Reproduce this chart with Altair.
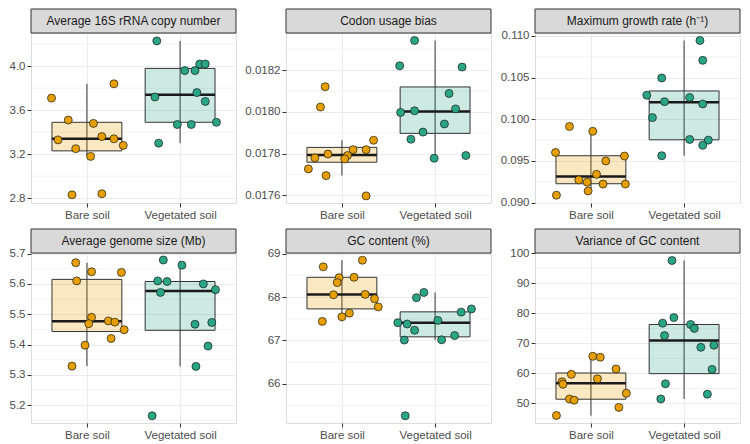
import altair as alt
import pandas as pd

# ---------------- data ----------------
groups = ["Bare soil", "Vegetated soil"]
group_pos = [1, 2]
titles = ["Average 16S rRNA copy number", "Codon usage bias", "Maximum growth rate (h\u207b\u00b9)",
          "Average genome size (Mb)", "GC content (%)", "Variance of GC content"]
colors = ["#E69F00", "#1F8C70"]
box_colors = ["#E69F00", "#2AA585"]

# box stats: [lower whisker, Q1, median, Q3, upper whisker]
# 1. Average 16S rRNA copy number
rrna_bare = [3.71, 3.84, 3.51, 3.48, 3.33, 3.36, 3.34, 3.28, 3.25, 3.18, 2.83, 2.84]
rrna_bare_jit = [-0.38, 0.29, -0.20, 0.07, -0.31, 0.16, 0.29, 0.39, -0.12, 0.04, -0.16, 0.16]
rrna_veg = [4.23, 4.02, 4.02, 3.96, 3.96, 3.72, 3.76, 3.68, 3.47, 3.47, 3.49, 3.30]
rrna_veg_jit = [-0.25, 0.21, 0.27, 0.05, 0.16, -0.27, 0.18, 0.27, -0.03, 0.12, 0.39, -0.23]
rrna_box_bare = [3.19, 3.23, 3.34, 3.49, 3.84]
rrna_box_veg = [3.30, 3.49, 3.74, 3.98, 4.23]
rrna_ticks = [2.8, 3.2, 3.6, 4.0]
rrna_minor = [3.0, 3.4, 3.8, 4.2]
rrna_domain = [2.756, 4.302]

# 2. Codon usage bias
codon_bare = [0.018120, 0.018023, 0.017864, 0.017819, 0.017819, 0.017798,
              0.017780, 0.017791, 0.017775, 0.017727, 0.017695, 0.017598]
codon_bare_jit = [-0.18, -0.23, 0.34, 0.12, 0.26, -0.15, -0.29, 0.06, 0.03, -0.36, -0.17, 0.26]
codon_veg = [0.018341, 0.018220, 0.018214, 0.018088, 0.018014, 0.017997,
             0.018005, 0.017942, 0.017903, 0.017869, 0.017778, 0.017791]
codon_veg_jit = [-0.22, -0.38, 0.29, 0.15, 0.22, -0.37, -0.22, 0.10, -0.13, -0.26, -0.01, 0.33]
codon_box_bare = [0.017695, 0.017759, 0.017794, 0.017830, 0.017864]
codon_box_veg = [0.017778, 0.017897, 0.018002, 0.018119, 0.018341]
codon_ticks = [0.0176, 0.0178, 0.0180, 0.0182]
codon_minor = [0.0177, 0.0179, 0.0181, 0.0183]
codon_domain = [0.017564, 0.018377]

# 3. Maximum growth rate
growth_bare = [0.09914, 0.09856, 0.09602, 0.09500, 0.09559, 0.09340,
               0.09273, 0.09246, 0.09223, 0.09223, 0.09141, 0.09090]
growth_bare_jit = [-0.23, 0.02, -0.38, 0.16, 0.36, 0.06, -0.13, -0.04, 0.13, 0.37, -0.03, -0.37]
growth_veg = [0.10945, 0.10707, 0.10496, 0.10289, 0.10211, 0.10262,
              0.10184, 0.10020, 0.09758, 0.09750, 0.09688, 0.09563]
growth_veg_jit = [0.17, 0.20, -0.24, -0.40, -0.21, 0.06, 0.20, -0.34, 0.06, 0.26, 0.20, -0.24]
growth_box_bare = [0.09130, 0.09227, 0.09313, 0.09563, 0.09895]
growth_box_veg = [0.09563, 0.09754, 0.10203, 0.10340, 0.10945]
growth_ticks = [0.090, 0.095, 0.100, 0.105, 0.110]
growth_minor = [0.0925, 0.0975, 0.1025, 0.1075]
growth_domain = [0.08996, 0.11035]

# 4. Average genome size
genome_bare = [5.670, 5.640, 5.638, 5.610, 5.490, 5.469, 5.478, 5.474, 5.449, 5.420, 5.398, 5.329]
genome_bare_jit = [-0.12, 0.05, 0.37, -0.11, 0.05, 0.02, 0.23, 0.30, 0.40, 0.26, -0.02, -0.16]
genome_veg = [5.679, 5.662, 5.610, 5.608, 5.572, 5.600, 5.581, 5.467, 5.473, 5.395, 5.328, 5.165]
genome_veg_jit = [-0.18, 0.02, -0.24, -0.14, -0.21, 0.25, 0.38, 0.16, 0.34, 0.30, 0.17, -0.30]
genome_box_bare = [5.329, 5.443, 5.477, 5.615, 5.670]
genome_box_veg = [5.328, 5.447, 5.577, 5.608, 5.676]
genome_ticks = [5.2, 5.3, 5.4, 5.5, 5.6, 5.7]
genome_minor = [5.15, 5.25, 5.35, 5.45, 5.55, 5.65]
genome_domain = [5.1414, 5.702]

# 5. GC content
gc_bare = [68.697, 68.848, 68.447, 68.455, 68.333, 68.053, 68.061, 67.962, 67.773, 67.629, 67.545, 67.439]
gc_bare_jit = [-0.20, 0.22, -0.03, 0.13, -0.05, -0.09, 0.25, 0.35, 0.39, 0.08, 0.0, -0.21]
gc_veg = [68.106, 67.985, 67.727, 67.652, 67.409, 67.379, 67.462, 67.235, 67.114, 67.008, 67.015, 65.265]
gc_veg_jit = [-0.12, -0.20, 0.39, 0.28, -0.40, -0.30, 0.03, -0.22, 0.21, -0.33, 0.07, -0.32]
gc_box_bare = [67.439, 67.727, 68.061, 68.455, 68.848]
gc_box_veg = [67.008, 67.083, 67.409, 67.659, 68.106]
gc_ticks = [66, 67, 68, 69]
gc_minor = [65.5, 66.5, 67.5, 68.5]
gc_domain = [65.098, 69.015]

# 6. Variance of GC content
var_bare = [65.7, 65.4, 61.5, 59.7, 58.2, 57.2, 56.4, 51.5, 51.1, 48.7, 53.4, 46.0]
var_bare_jit = [0.02, 0.10, 0.27, -0.21, 0.07, -0.31, -0.30, -0.23, -0.18, 0.30, 0.38, -0.37]
var_veg = [97.6, 78.6, 76.75, 76.3, 75.0, 72.6, 68.7, 69.4, 61.35, 56.55, 51.5, 53.1]
var_veg_jit = [-0.13, -0.11, -0.23, 0.07, 0.11, -0.21, 0.18, 0.32, 0.30, -0.20, -0.25, 0.25]
var_box_bare = [45.96, 51.42, 56.77, 60.15, 65.72]
var_box_veg = [51.5, 59.93, 70.96, 76.3, 97.6]
var_ticks = [50, 60, 70, 80, 90, 100]
var_minor = [45, 55, 65, 75, 85, 95]
var_domain = [43.5, 100.1]

# ---------------- layout / style ----------------
W = 205
H = 170
STRIP = 24
FONT = "Liberation Sans"
GRID = "#ebebeb"
DARK = "#333333"
BOX_HALF = 0.375


def panel(title, bare, bare_jit, veg, veg_jit, box_bare, box_veg, ticks, minor, domain, fmt):
    pts = pd.DataFrame({
        "group": [groups[0]] * len(bare) + [groups[1]] * len(veg),
        "pos": [group_pos[0] + j for j in bare_jit] + [group_pos[1] + j for j in veg_jit],
        "value": bare + veg,
    })
    boxes = pd.DataFrame({
        "group": groups,
        "center": group_pos,
        "left": [p - BOX_HALF for p in group_pos],
        "right": [p + BOX_HALF for p in group_pos],
        "lo": [box_bare[0], box_veg[0]],
        "q1": [box_bare[1], box_veg[1]],
        "med": [box_bare[2], box_veg[2]],
        "q3": [box_bare[3], box_veg[3]],
        "hi": [box_bare[4], box_veg[4]],
    })
    xscale = alt.Scale(domain=[0.4, 2.6], nice=False, zero=False)
    yscale = alt.Scale(domain=domain, nice=False, zero=False)
    label_expr = f"datum.value == {group_pos[0]} ? '{groups[0]}' : '{groups[1]}'"
    xaxis = alt.Axis(values=group_pos, labelExpr=label_expr, title=None, grid=True,
                     gridColor=GRID, gridWidth=1, domain=False, tickColor=DARK, tickSize=4,
                     labelColor="#4d4d4d", labelFontSize=11.5, labelPadding=2, labelFont=FONT,
                     labelOverlap=False, labelFlush=False)
    yaxis = alt.Axis(values=ticks, format=fmt, title=None, grid=True, gridColor=GRID,
                     gridWidth=1, domain=False, tickColor=DARK, tickSize=4,
                     labelColor="#4d4d4d", labelFontSize=11.5, labelPadding=2, labelFont=FONT,
                     labelOverlap=False, labelFlush=False)
    color = alt.Color("group:N", scale=alt.Scale(domain=groups, range=colors), legend=None)
    box_color = alt.Color("group:N", scale=alt.Scale(domain=groups, range=box_colors), legend=None)

    minor_grid = alt.Chart(pd.DataFrame({"v": minor})).mark_rule(
        color=GRID, strokeWidth=0.6).encode(
        y=alt.Y("v:Q", scale=yscale, axis=yaxis))

    whisker = alt.Chart(boxes).mark_rule(color=DARK, strokeWidth=1).encode(
        x=alt.X("center:Q", scale=xscale, axis=xaxis),
        y=alt.Y("lo:Q", scale=yscale, axis=yaxis),
        y2="hi:Q")

    box = alt.Chart(boxes).mark_rect(stroke=DARK, strokeWidth=1, fillOpacity=0.24).encode(
        x=alt.X("left:Q", scale=xscale, axis=xaxis), x2="right:Q",
        y=alt.Y("q1:Q", scale=yscale, axis=yaxis), y2="q3:Q",
        fill=box_color)

    median = alt.Chart(boxes).mark_rule(color="#1a1a1a", strokeWidth=2.5).encode(
        x=alt.X("left:Q", scale=xscale, axis=xaxis), x2="right:Q",
        y=alt.Y("med:Q", scale=yscale, axis=yaxis))

    points = alt.Chart(pts).mark_circle(size=64, opacity=1, stroke="#1a1a1a",
                                        strokeWidth=0.7).encode(
        x=alt.X("pos:Q", scale=xscale, axis=xaxis),
        y=alt.Y("value:Q", scale=yscale, axis=yaxis),
        fill=color)

    tdf = pd.DataFrame({"title": [title]})
    strip = alt.Chart(tdf).mark_rect(fill="#d9d9d9", stroke=DARK, strokeWidth=1).encode(
        x=alt.value(0), x2=alt.value(W), y=alt.value(-STRIP), y2=alt.value(0))
    strip_text = alt.Chart(tdf).mark_text(font=FONT, fontSize=12, color="#1a1a1a",
                                          baseline="middle", align="center").encode(
        x=alt.value(W / 2), y=alt.value(-STRIP / 2), text="title:N")

    return alt.layer(minor_grid, whisker, box, median, points, strip, strip_text).properties(
        width=W, height=H)


panels = [
    panel(titles[0], rrna_bare, rrna_bare_jit, rrna_veg, rrna_veg_jit, rrna_box_bare, rrna_box_veg,
          rrna_ticks, rrna_minor, rrna_domain, ".1f"),
    panel(titles[1], codon_bare, codon_bare_jit, codon_veg, codon_veg_jit, codon_box_bare,
          codon_box_veg, codon_ticks, codon_minor, codon_domain, ".4f"),
    panel(titles[2], growth_bare, growth_bare_jit, growth_veg, growth_veg_jit, growth_box_bare,
          growth_box_veg, growth_ticks, growth_minor, growth_domain, ".3f"),
    panel(titles[3], genome_bare, genome_bare_jit, genome_veg, genome_veg_jit, genome_box_bare,
          genome_box_veg, genome_ticks, genome_minor, genome_domain, ".1f"),
    panel(titles[4], gc_bare, gc_bare_jit, gc_veg, gc_veg_jit, gc_box_bare, gc_box_veg,
          gc_ticks, gc_minor, gc_domain, "d"),
    panel(titles[5], var_bare, var_bare_jit, var_veg, var_veg_jit, var_box_bare, var_box_veg,
          var_ticks, var_minor, var_domain, "d"),
]

chart = alt.concat(*panels, columns=3, spacing=7, align="each").properties(
    padding={"left": 0, "top": 0, "right": 0, "bottom": 0}
).configure_view(stroke=DARK, strokeWidth=1).configure(background="white")

chart.save("out.html", embed_options={"renderer": "svg", "actions": False})
